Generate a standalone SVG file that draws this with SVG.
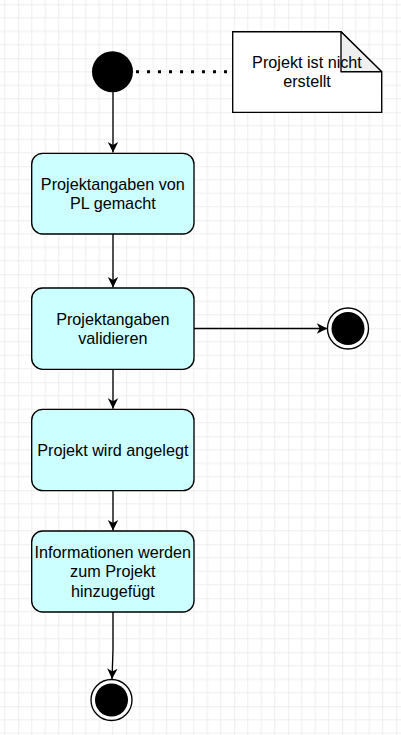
<svg xmlns="http://www.w3.org/2000/svg" width="401" height="735" viewBox="0 0 401 735">
  <defs>
    <pattern id="grid" patternUnits="userSpaceOnUse" x="18.3" y="4.3" width="54" height="54">
      <path d="M13.5 0V54M27 0V54M40.5 0V54M0 13.5H54M0 27H54M0 40.5H54" fill="none" stroke="#eeeeee" stroke-width="1"/>
      <path d="M0 0V54M0 0H54" fill="none" stroke="#dedede" stroke-width="1"/>
    </pattern>
    <marker id="arrow" markerUnits="userSpaceOnUse" viewBox="-11 -6 12 12" refX="0" refY="0" markerWidth="12" markerHeight="12" orient="auto">
      <path d="M0 0L-10.5 -5.2L-7.6 0L-10.5 5.2Z" fill="#000"/>
    </marker>
    <style>
      .act { fill: #ccffff; stroke: #000; stroke-width: 1.35; }
      .lbl { font-family: "Liberation Sans", Arial, sans-serif; font-size: 16.2px; fill: #000; text-anchor: middle; }
      .edge { fill: none; stroke: #000; stroke-width: 1.35; }
      .dots { fill: none; stroke: #000; stroke-width: 3; stroke-dasharray: 3 8; }
    </style>
  </defs>
  <rect width="401" height="735" fill="#ffffff"/>
  <rect width="401" height="735" fill="url(#grid)"/>

  <g id="connectors">
    <line class="dots" x1="136" y1="71.7" x2="235" y2="71.7"/>
    <line class="edge" x1="113" y1="92" x2="113" y2="152.5" marker-end="url(#arrow)"/>
    <line class="edge" x1="113" y1="234" x2="113" y2="287.5" marker-end="url(#arrow)"/>
    <line class="edge" x1="194" y1="328.5" x2="327.3" y2="328.5" marker-end="url(#arrow)"/>
    <line class="edge" x1="113" y1="369.3" x2="113" y2="408.8" marker-end="url(#arrow)"/>
    <line class="edge" x1="113" y1="490.7" x2="113" y2="530.5" marker-end="url(#arrow)"/>
    <polyline class="edge" points="113,612 113,650 112,679" marker-end="url(#arrow)"/>
  </g>

  <g id="start">
    <circle cx="112.5" cy="71.7" r="20.5" fill="#000"/>
  </g>

  <g id="note">
    <path d="M232.7 31.7H341L381.7 71.7V112.3H232.7Z" fill="#ffffff" stroke="#000" stroke-width="1.35"/>
    <path d="M341 31.7V71.7H381.7Z" fill="#efefef" stroke="#000" stroke-width="1.35" stroke-linejoin="round"/>
    <text class="lbl" x="307" y="68">Projekt ist nicht</text>
    <text class="lbl" x="307" y="87.4">erstellt</text>
  </g>

  <g id="act1">
    <rect class="act" x="31.7" y="153.3" width="162.3" height="80.7" rx="11" ry="11"/>
    <text class="lbl" x="112.85" y="189.8">Projektangaben von</text>
    <text class="lbl" x="112.85" y="209.2">PL gemacht</text>
  </g>

  <g id="act2">
    <rect class="act" x="31.7" y="288" width="162.3" height="81.3" rx="11" ry="11"/>
    <text class="lbl" x="112.85" y="324.5">Projektangaben</text>
    <text class="lbl" x="112.85" y="343.9">validieren</text>
  </g>

  <g id="end1">
    <circle cx="348" cy="328.5" r="20.5" fill="#ffffff" stroke="#000" stroke-width="1.35"/>
    <circle cx="348" cy="328.5" r="16.5" fill="#000"/>
  </g>

  <g id="act3">
    <rect class="act" x="31.7" y="409.3" width="162.3" height="81.4" rx="11" ry="11"/>
    <text class="lbl" x="112.85" y="455.7">Projekt wird angelegt</text>
  </g>

  <g id="act4">
    <rect class="act" x="31.7" y="531" width="162.3" height="81" rx="11" ry="11"/>
    <text class="lbl" x="112.85" y="557.8">Informationen werden</text>
    <text class="lbl" x="112.85" y="577.2">zum Projekt</text>
    <text class="lbl" x="112.85" y="596.6">hinzugefügt</text>
  </g>

  <g id="end2">
    <circle cx="111.5" cy="700" r="20.5" fill="#ffffff" stroke="#000" stroke-width="1.35"/>
    <circle cx="111.5" cy="700" r="16.5" fill="#000"/>
  </g>
</svg>
